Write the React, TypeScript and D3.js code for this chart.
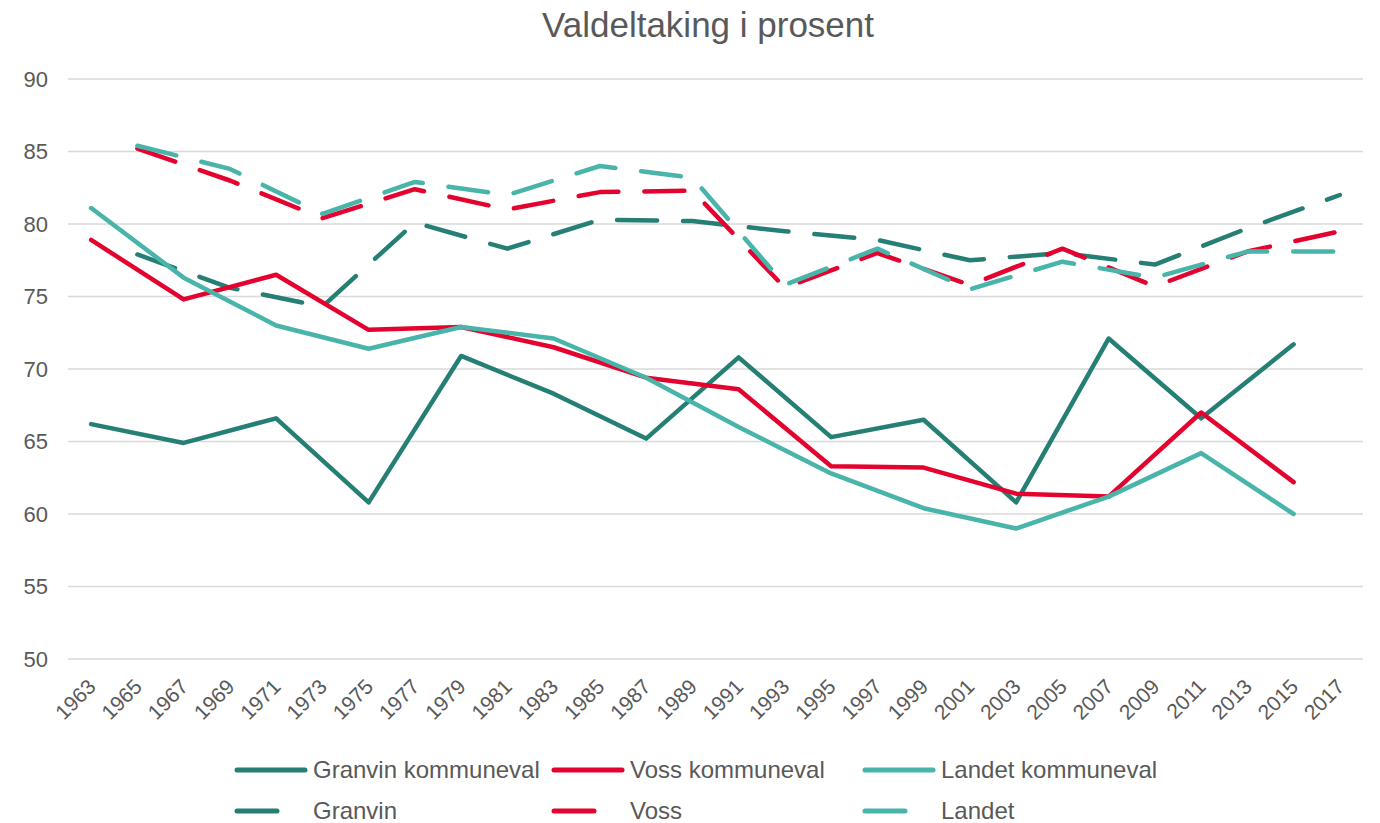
import React from "react";
import * as d3 from "d3";

const categories: string[] = [
  "1963","1965","1967","1969","1971","1973","1975","1977","1979","1981",
  "1983","1985","1987","1989","1991","1993","1995","1997","1999","2001",
  "2003","2005","2007","2009","2011","2013","2015","2017",
];

const kommunevalYears: string[] = ["1963","1967","1971","1975","1979","1983","1987","1991","1995","1999","2003","2007","2011","2015"];
const stortingYears: string[] = ["1965","1969","1973","1977","1981","1985","1989","1993","1997","2001","2005","2009","2013","2017"];

const granvinKommuneval: number[] = [66.2, 64.9, 66.6, 60.8, 70.9, 68.3, 65.2, 70.8, 65.3, 66.5, 60.8, 72.1, 66.6, 71.7];
const vossKommuneval: number[] = [78.9, 74.8, 76.5, 72.7, 72.9, 71.5, 69.4, 68.6, 63.3, 63.2, 61.4, 61.2, 67.0, 62.2];
const landetKommuneval: number[] = [81.1, 76.3, 73.0, 71.4, 72.9, 72.1, 69.4, 66.0, 62.8, 60.4, 59.0, 61.2, 64.2, 60.0];

const granvin: number[] = [77.9, 75.6, 74.3, 80.1, 78.3, 80.3, 80.2, 79.5, 78.9, 77.5, 78.0, 77.2, 79.7, 82.0];
const voss: number[] = [85.2, 83.0, 80.4, 82.4, 81.0, 82.2, 82.3, 75.6, 78.0, 75.8, 78.3, 75.7, 78.1, 79.5];
const landet: number[] = [85.4, 83.8, 80.7, 82.9, 82.0, 84.0, 83.2, 75.8, 78.3, 75.5, 77.4, 76.3, 78.1, 78.1];

const yTicks: number[] = [50, 55, 60, 65, 70, 75, 80, 85, 90];

const DARK = "#267F74";
const RED = "#E4032E";
const LIGHT = "#49B4AA";
const TEXT = "#595959";
const FONT = "'Liberation Sans', Arial, Helvetica, sans-serif";

type Series = { name: string; years: string[]; values: number[]; color: string; dashed: boolean };

const series: Series[] = [
  { name: "Granvin kommuneval", years: kommunevalYears, values: granvinKommuneval, color: DARK, dashed: false },
  { name: "Voss kommuneval", years: kommunevalYears, values: vossKommuneval, color: RED, dashed: false },
  { name: "Landet kommuneval", years: kommunevalYears, values: landetKommuneval, color: LIGHT, dashed: false },
  { name: "Granvin", years: stortingYears, values: granvin, color: DARK, dashed: true },
  { name: "Voss", years: stortingYears, values: voss, color: RED, dashed: true },
  { name: "Landet", years: stortingYears, values: landet, color: LIGHT, dashed: true },
];

export default function App() {
  const W = 1380;
  const H = 823;
  const left = 68;
  const right = 1363;
  const top = 79;
  const bottom = 659;

  const x = d3.scaleBand<string>().domain(categories).range([left, right]).padding(0);
  const cx = (c: string) => (x(c) as number) + x.bandwidth() / 2;
  const y = d3.scaleLinear().domain([50, 90]).range([bottom, top]);

  const draw = [series[3], series[4], series[5], series[0], series[1], series[2]];

  const legendCols = [235, 552, 863];
  const legendRows = [770, 811];

  return (
    <svg width={W} height={H} style={{ position: "absolute", left: 0, top: 0, background: "#fff" }} fontFamily={FONT}>
      <text x={708} y={37} textAnchor="middle" fontSize={35} fill={TEXT}>
        Valdeltaking i prosent
      </text>
      {yTicks.map((t) => (
        <g key={t}>
          <line x1={left} x2={right} y1={y(t)} y2={y(t)} stroke="#d9d9d9" strokeWidth={1.5} />
          <text x={48} y={y(t)} dy="0.35em" textAnchor="end" fontSize={22} fill={TEXT}>
            {t}
          </text>
        </g>
      ))}
      {categories.map((c) => (
        <text
          key={c}
          textAnchor="end"
          fontSize={21}
          fill={TEXT}
          transform={`translate(${cx(c) + 6},${688}) rotate(-45)`}
        >
          {c}
        </text>
      ))}
      {draw.map((s) => {
        const line = d3
          .line<number>()
          .x((_, i) => cx(s.years[i]))
          .y((v) => y(v));
        return (
          <path
            key={s.name}
            d={line(s.values) as string}
            fill="none"
            stroke={s.color}
            strokeWidth={4.5}
            strokeLinejoin="round"
            strokeLinecap="round"
            strokeDasharray={s.dashed ? "40 26" : undefined}
          />
        );
      })}
      {series.map((s, i) => {
        const col = i % 3;
        const row = Math.floor(i / 3);
        const lx = legendCols[col];
        const ly = legendRows[row];
        return (
          <g key={"lg" + s.name}>
            <line
              x1={lx + 2}
              x2={s.dashed ? lx + 42 : lx + 70}
              y1={ly}
              y2={ly}
              stroke={s.color}
              strokeWidth={5}
              strokeLinecap="round"
            />
            <text x={lx + 78} y={ly} dy="0.35em" fontSize={24} fill={TEXT}>
              {s.name}
            </text>
          </g>
        );
      })}
    </svg>
  );
}
